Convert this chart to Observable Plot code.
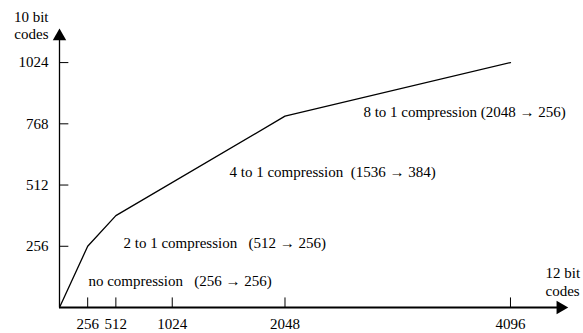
<!DOCTYPE html>
<html>
<head>
<meta charset="utf-8">
<script src="https://cdn.jsdelivr.net/npm/d3@7"></script>
<script src="https://cdn.jsdelivr.net/npm/@observablehq/plot@0.6"></script>
<style>
  html, body { margin: 0; padding: 0; background: #fff; }
  svg { font-family: "Liberation Serif", "Times New Roman", serif; }
</style>
</head>
<body>
<div id="chart"></div>
<script>
// Data
const inputCodes  = [0, 256, 512, 2048, 4096];   // 12 bit codes
const outputCodes = [0, 256, 384, 800, 1024];    // 10 bit codes
const xTicks = [256, 512, 1024, 2048, 4096];
const yTicks = [256, 512, 768, 1024];
const segLabels = [
  "no compression\u00a0\u00a0\u00a0(256 \u2192 256)",
  "2 to 1 compression\u00a0\u00a0\u00a0(512 \u2192 256)",
  "4 to 1 compression\u00a0\u00a0(1536 \u2192 384)",
  "8 to 1 compression (2048 \u2192 256)"
];
const segLabelX = [263, 581, 1544, 2760];
const segLabelY = [109, 267, 564, 815];
const axisEnds = {x: 4550, y: 1134};

const curve = inputCodes.map((x, i) => ({x, y: outputCodes[i]}));
const labels = segLabels.map((t, i) => ({t, x: segLabelX[i], y: segLabelY[i]}));

const chart = Plot.plot({
  width: 583,
  height: 333,
  marginLeft: 59,
  marginRight: 15,
  marginTop: 20,
  marginBottom: 26,
  x: {domain: [0, 4623], axis: null},
  y: {domain: [0, 1200], axis: null},
  style: {fontSize: "15px", fontFamily: "Liberation Serif, Times New Roman, serif", color: "#000", background: "#fff"},
  marks: [
    // axes lines
    Plot.ruleY([0], {x1: 0, x2: axisEnds.x, stroke: "#000", strokeWidth: 2}),
    Plot.ruleX([0], {y1: 0, y2: axisEnds.y, stroke: "#000", strokeWidth: 1.3}),
    // arrow heads
    Plot.dot([{x: 0, y: axisEnds.y}], {x: "x", y: "y", symbol: "triangle", r: 5, fill: "#000", stroke: null}),
    Plot.dot([{x: axisEnds.x, y: 0}], {x: "x", y: "y", symbol: "triangle", r: 5, fill: "#000", stroke: null, rotate: 90}),
    // tick marks
    Plot.ruleX(xTicks, {x: d => d, y1: 0, y2: 40, stroke: "#000", strokeWidth: 1}),
    Plot.ruleY(yTicks, {y: d => d, x1: 0, x2: 85, stroke: "#000", strokeWidth: 1}),
    // tick labels
    Plot.text(xTicks, {x: d => d, y: 0, text: d => String(d), dy: 17, fill: "#000", fontSize: 15}),
    Plot.text(yTicks, {x: 0, y: d => d, text: d => String(d), dx: -11, textAnchor: "end", fill: "#000", fontSize: 15}),
    // axis titles
    Plot.text(["10 bit\ncodes"], {frameAnchor: "top-left", dx: -11, dy: -11, textAnchor: "end", lineAnchor: "top", lineHeight: 1.15, fill: "#000", fontSize: 15}),
    Plot.text(["12 bit\ncodes"], {x: () => 4414, y: () => 109, textAnchor: "start", lineAnchor: "middle", lineHeight: 1.15, fill: "#000", fontSize: 15}),
    // the curve
    Plot.line(curve, {x: "x", y: "y", stroke: "#000", strokeWidth: 1.3}),
    // segment labels
    Plot.text(labels, {x: "x", y: "y", text: "t", textAnchor: "start", fill: "#000", fontSize: 15})
  ]
});
document.getElementById("chart").appendChild(chart);
</script>
</body>
</html>
